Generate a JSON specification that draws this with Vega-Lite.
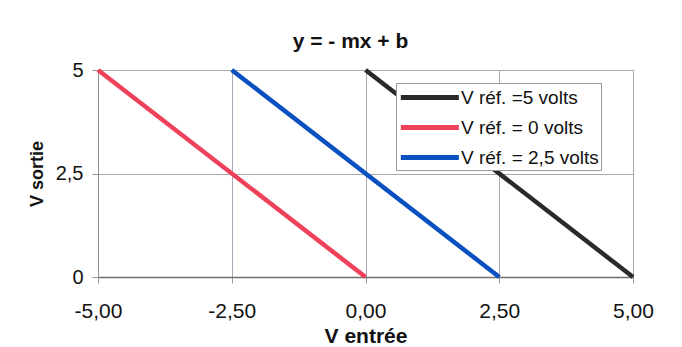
{
  "$schema": "https://vega.github.io/schema/vega-lite/v6.json",
  "autosize": {"type": "none"},
  "padding": {"left": 98, "top": 70, "right": 49, "bottom": 70},
  "width": 535,
  "height": 207,
  "background": "white",
  "config": {
    "font": "Liberation Sans",
    "view": {"stroke": "#a0a0a0", "strokeWidth": 1}
  },
  "title": {
    "text": "y = - mx + b",
    "font": "Liberation Sans",
    "fontSize": 21,
    "fontWeight": "bold",
    "color": "#111111",
    "anchor": "middle",
    "dx": -15,
    "offset": 8
  },
  "data": {
    "values": [
      {"serie": "V réf. =5 volts", "ventree": 0, "vsortie": 5},
      {"serie": "V réf. =5 volts", "ventree": 5, "vsortie": 0},
      {"serie": "V réf. = 0 volts", "ventree": -5, "vsortie": 5},
      {"serie": "V réf. = 0 volts", "ventree": 0, "vsortie": 0},
      {"serie": "V réf. = 2,5 volts", "ventree": -2.5, "vsortie": 5},
      {"serie": "V réf. = 2,5 volts", "ventree": 2.5, "vsortie": 0}
    ]
  },
  "mark": {"type": "line", "strokeWidth": 4.5, "clip": false},
  "encoding": {
    "x": {
      "field": "ventree",
      "type": "quantitative",
      "scale": {"domain": [-5, 5], "nice": false, "zero": false},
      "axis": {
        "title": "V entrée",
        "titleFont": "Liberation Sans",
        "titleFontSize": 21,
        "titleFontWeight": "bold",
        "titleColor": "#111111",
        "titlePadding": 4,
        "values": [-5, -2.5, 0, 2.5, 5],
        "labelExpr": "replace(replace(format(datum.value, '.2f'), '.', ','), '−', '-')",
        "labelFont": "Liberation Sans",
        "labelFontSize": 21,
        "labelColor": "#111111",
        "labelFlush": false,
        "labelOverlap": false,
        "labelPadding": 17,
        "tickSize": 6,
        "tickColor": "#999999",
        "domainColor": "#707070",
        "domainWidth": 1.5,
        "grid": true,
        "gridColor": "#a8a8b8",
        "gridWidth": 1
      }
    },
    "y": {
      "field": "vsortie",
      "type": "quantitative",
      "scale": {"domain": [0, 5], "nice": false, "zero": false},
      "axis": {
        "title": "V sortie",
        "titleFont": "Liberation Sans",
        "titleFontSize": 18,
        "titleFontWeight": "bold",
        "titleColor": "#111111",
        "titlePadding": 9,
        "values": [0, 2.5, 5],
        "labelExpr": "replace(format(datum.value, '~g'), '.', ',')",
        "labelFont": "Liberation Sans",
        "labelFontSize": 20,
        "labelColor": "#111111",
        "labelFlush": false,
        "labelOverlap": false,
        "labelPadding": 9,
        "tickSize": 6,
        "tickColor": "#999999",
        "domainColor": "#909090",
        "domainWidth": 1,
        "grid": true,
        "gridColor": "#a8a8a8",
        "gridWidth": 1
      }
    },
    "color": {
      "field": "serie",
      "type": "nominal",
      "scale": {
        "domain": ["V réf. =5 volts", "V réf. = 0 volts", "V réf. = 2,5 volts"],
        "range": ["#2a2a2a", "#f0415a", "#0a50c0"]
      },
      "legend": {
        "title": null,
        "orient": "none",
        "legendX": 298,
        "legendY": 13,
        "symbolType": "M-1,0H5",
        "symbolSize": 374,
        "symbolStrokeWidth": 5,
        "labelFont": "Liberation Sans",
        "labelFontSize": 19,
        "labelColor": "#111111",
        "labelOffset": 38,
        "labelExpr": "datum.label + '  '",
        "rowPadding": 7,
        "padding": 2,
        "fillColor": "white",
        "strokeColor": "#999999",
        "cornerRadius": 0
      }
    }
  }
}
